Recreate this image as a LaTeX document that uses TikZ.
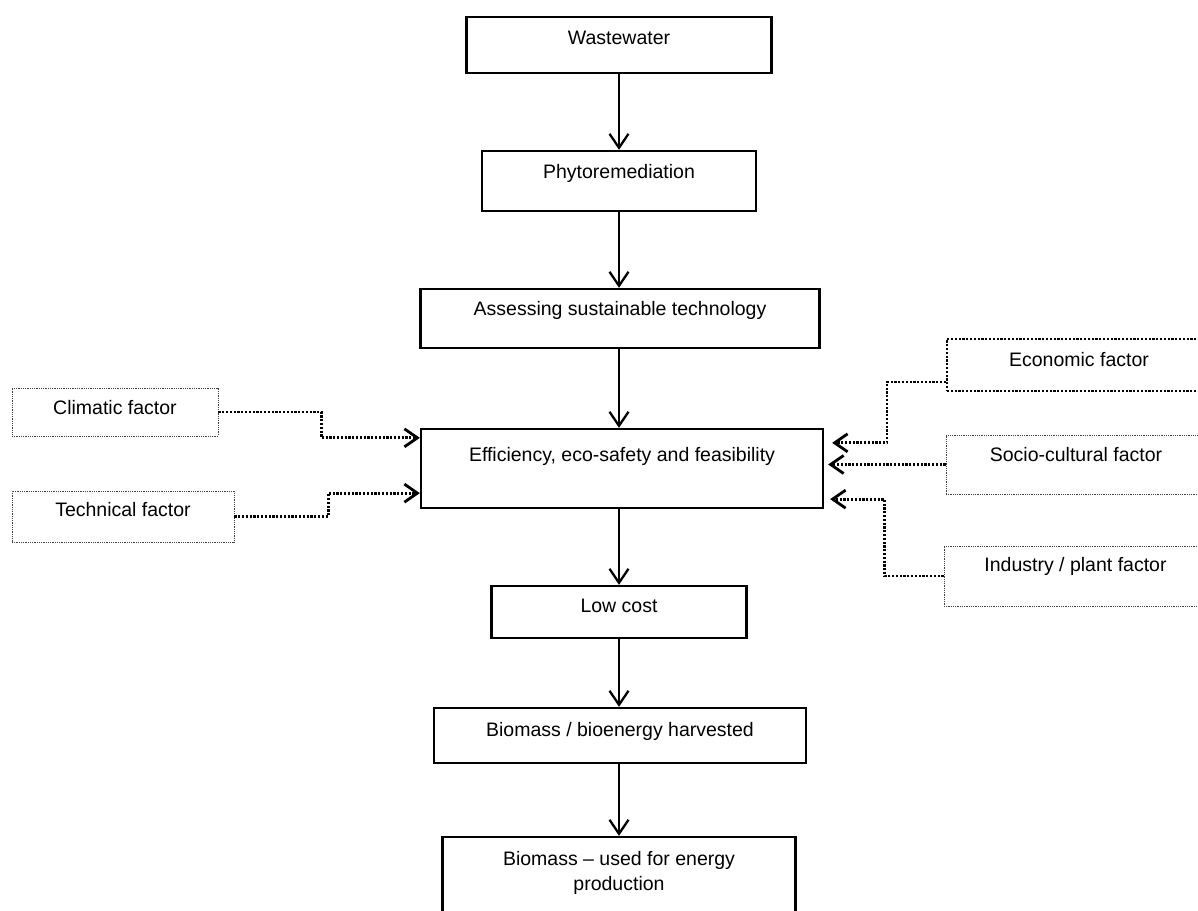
\documentclass[tikz,border=0pt]{standalone}
\usepackage{fontspec}
\setmainfont{Liberation Sans}
\usetikzlibrary{arrows.meta}

\tikzset{
  stage/.style={draw,line width=2.3pt,inner sep=0pt,anchor=base,font=\fontsize{19.5}{25}\selectfont},
  factor/.style={draw=black!75,densely dotted,line width=0.8pt,inner sep=0pt,anchor=base,font=\fontsize{19.5}{25}\selectfont},
  flow/.style={-{Straight Barb[length=14pt,width=19pt]},line width=2.3pt},
  link/.style={-{Straight Barb[length=13pt,width=18pt]},line width=2.8pt,dash pattern=on 2.2pt off 1.6pt}
}

\begin{document}
\begin{tikzpicture}[x=1pt,y=1pt]
        \useasboundingbox (0,0) rectangle (1198,910);
        \node[stage,minimum width=305pt,text height=28pt,text depth=28pt] (waste) at (619,865) {Wastewater};
        \node[stage,minimum width=274pt,text height=28pt,text depth=32pt] (phyto) at (619,731) {Phytoremediation};
        \node[stage,minimum width=399pt,text height=27pt,text depth=32pt] (assess) at (620,594) {Assessing sustainable technology};
        \node[stage,minimum width=402pt,text height=33pt,text depth=46pt] (eff) at (622,448) {Efficiency, eco-safety and feasibility};
        \node[stage,minimum width=255pt,text height=27pt,text depth=25pt] (cost) at (619,297) {Low cost};
        \node[stage,minimum width=372pt,text height=28pt,text depth=27pt] (harvest) at (620,174) {Biomass / bioenergy harvested};
        \node[stage,minimum width=353pt,align=center,text height=53pt,text depth=40pt] (used) at (619,20) {Biomass -- used for energy\\production};
        \draw[flow] (waste) -- (phyto);
        \draw[flow] (phyto) -- (assess.north -| phyto.south);
        \draw[flow] (assess.south -| phyto.south) -- (eff.north -| phyto.south);
        \draw[flow] (eff.south -| phyto.south) -- (cost);
        \draw[flow] (cost.south) -- (harvest.north -| cost.south);
        \draw[flow] (harvest.south -| cost.south) -- (used.north -| cost.south);

        \node[factor,minimum width=206pt,text height=27pt,text depth=21pt] (climate) at (115,495) {Climatic factor};
        \node[factor,minimum width=222pt,text height=26pt,text depth=25pt] (tech) at (123,393) {Technical factor};
        \node[factor,draw=black,line width=2pt,dash pattern=on 2.2pt off 1.6pt,minimum width=264pt,text height=28pt,text depth=24pt] (econ) at (1079,543) {Economic factor};
        \node[factor,minimum width=260pt,text height=27pt,text depth=32pt] (socio) at (1076,448) {Socio-cultural factor};
        \node[factor,minimum width=263pt,text height=26pt,text depth=34pt] (industry) at (1075.5,338) {Industry / plant factor};
        \draw[link] (climate.east) -- ++(103,0) |- ([yshift=-10pt]eff.north west);
        \draw[link] (tech.east) -- ++(94,0) |- ([yshift=16pt]eff.south west);
        \draw[link] ([yshift=10pt]econ.south west) -- ++(-59,0) |- ([xshift=8pt,yshift=-15pt]eff.north east);
        \draw[link] (socio.west) -- ([xshift=4pt]socio.west -| eff.east);
        \draw[link] (industry.west) -- ++(-59,0) |- ([xshift=6pt,yshift=10pt]eff.south east);
      \end{tikzpicture}
\end{document}
